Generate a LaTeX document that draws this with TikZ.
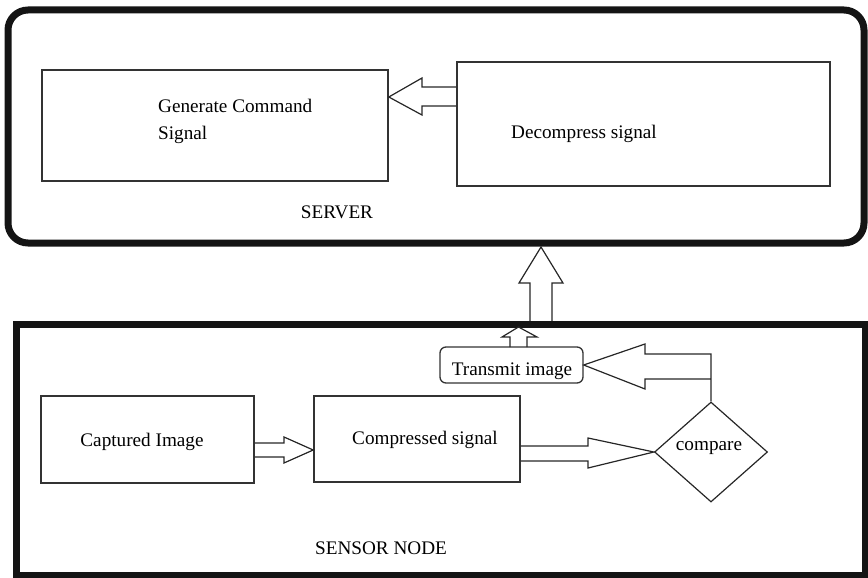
\documentclass[tikz,border=0pt]{standalone}
\usepackage{fontspec}
\setmainfont{Liberation Serif}
\newfontfamily\tms{Liberation Serif}
\usetikzlibrary{shapes.geometric,calc}
\begin{document}
\begin{tikzpicture}[x=1pt,y=-1pt,
  box/.style={draw=black!80, line width=1.6pt, rectangle, inner sep=0pt},
  outer/.style={draw=black!92, line width=7pt},
  blk/.style={draw=black!85, line width=1.2pt, line join=miter},
  lbl/.style={font=\tms\fontsize{19.2}{27}\selectfont, inner sep=0pt}]
\useasboundingbox (0,0) rectangle (868,578);
% outer containers
\draw[outer, rounded corners=20pt] (8,10) rectangle (864,243);
\draw[outer] (16,324) rectangle (865,575);
% server boxes
\node[box, minimum width=346pt, minimum height=111pt] (gen) at (215,125.5) {};
\node[box, minimum width=373pt, minimum height=124pt] (dec) at (643.5,124) {};
\node[lbl, anchor=west, align=left] (gent) at (158,121) {Generate Command\\Signal};
\node[lbl] (dect) at (584,134) {Decompress signal};
\node[lbl] (srv) at (337,212) {SERVER};
% sensor boxes
\node[box, minimum width=213pt, minimum height=87pt] (cap) at (147.5,439.5) {};
\node[lbl] (capt) at (142,442) {Captured Image};
\node[box, minimum width=206pt, minimum height=86pt] (comp) at (417,439) {};
\node[lbl] (compt) at (425,440) {Compressed signal};
\node[box, rounded corners=6pt, minimum width=143pt, minimum height=36pt, line width=1.3pt] (trans) at (511.5,365) {};
\node[lbl] (transt) at (512,371) {Transmit image};
\node[draw=black!85, line width=1.2pt, diamond, inner sep=0pt, minimum width=113pt, minimum height=100pt] (cmp) at (711,452) {};
\node[lbl] (cmpt) at (709,448) {compare};
\node[lbl] (sens) at (381,548) {SENSOR NODE};
% block arrows
\draw[blk] (dec.west |- 0,87) -- (422,87) -- (422,78) -- (gen.east |- 0,97) -- (422,115) -- (422,106) -- (dec.west |- 0,106);
\draw[blk] (530,321) -- (530,283) -- (519,283) -- (541,247) -- (563,283) -- (552,283) -- (552,321);
\draw[blk] (510,347) -- (510,337) -- (502,337) -- (518.5,327) -- (537,337) -- (527,337) -- (527,347);
\draw[blk] (cmp.north) -- (711,354) -- (645,354) -- (645,344) -- (trans.east |- 0,365) -- (645,389) -- (645,379) -- (711,379);
\draw[blk] (cap.east |- 0,443) -- (284,443) -- (284,437) -- (comp.west |- 0,450) -- (284,463) -- (284,457) -- (cap.east |- 0,457);
\draw[blk] (comp.east |- 0,446) -- (588,446) -- (588,438) -- (cmp.west) -- (588,468) -- (588,461) -- (comp.east |- 0,461);
\end{tikzpicture}
\end{document}
